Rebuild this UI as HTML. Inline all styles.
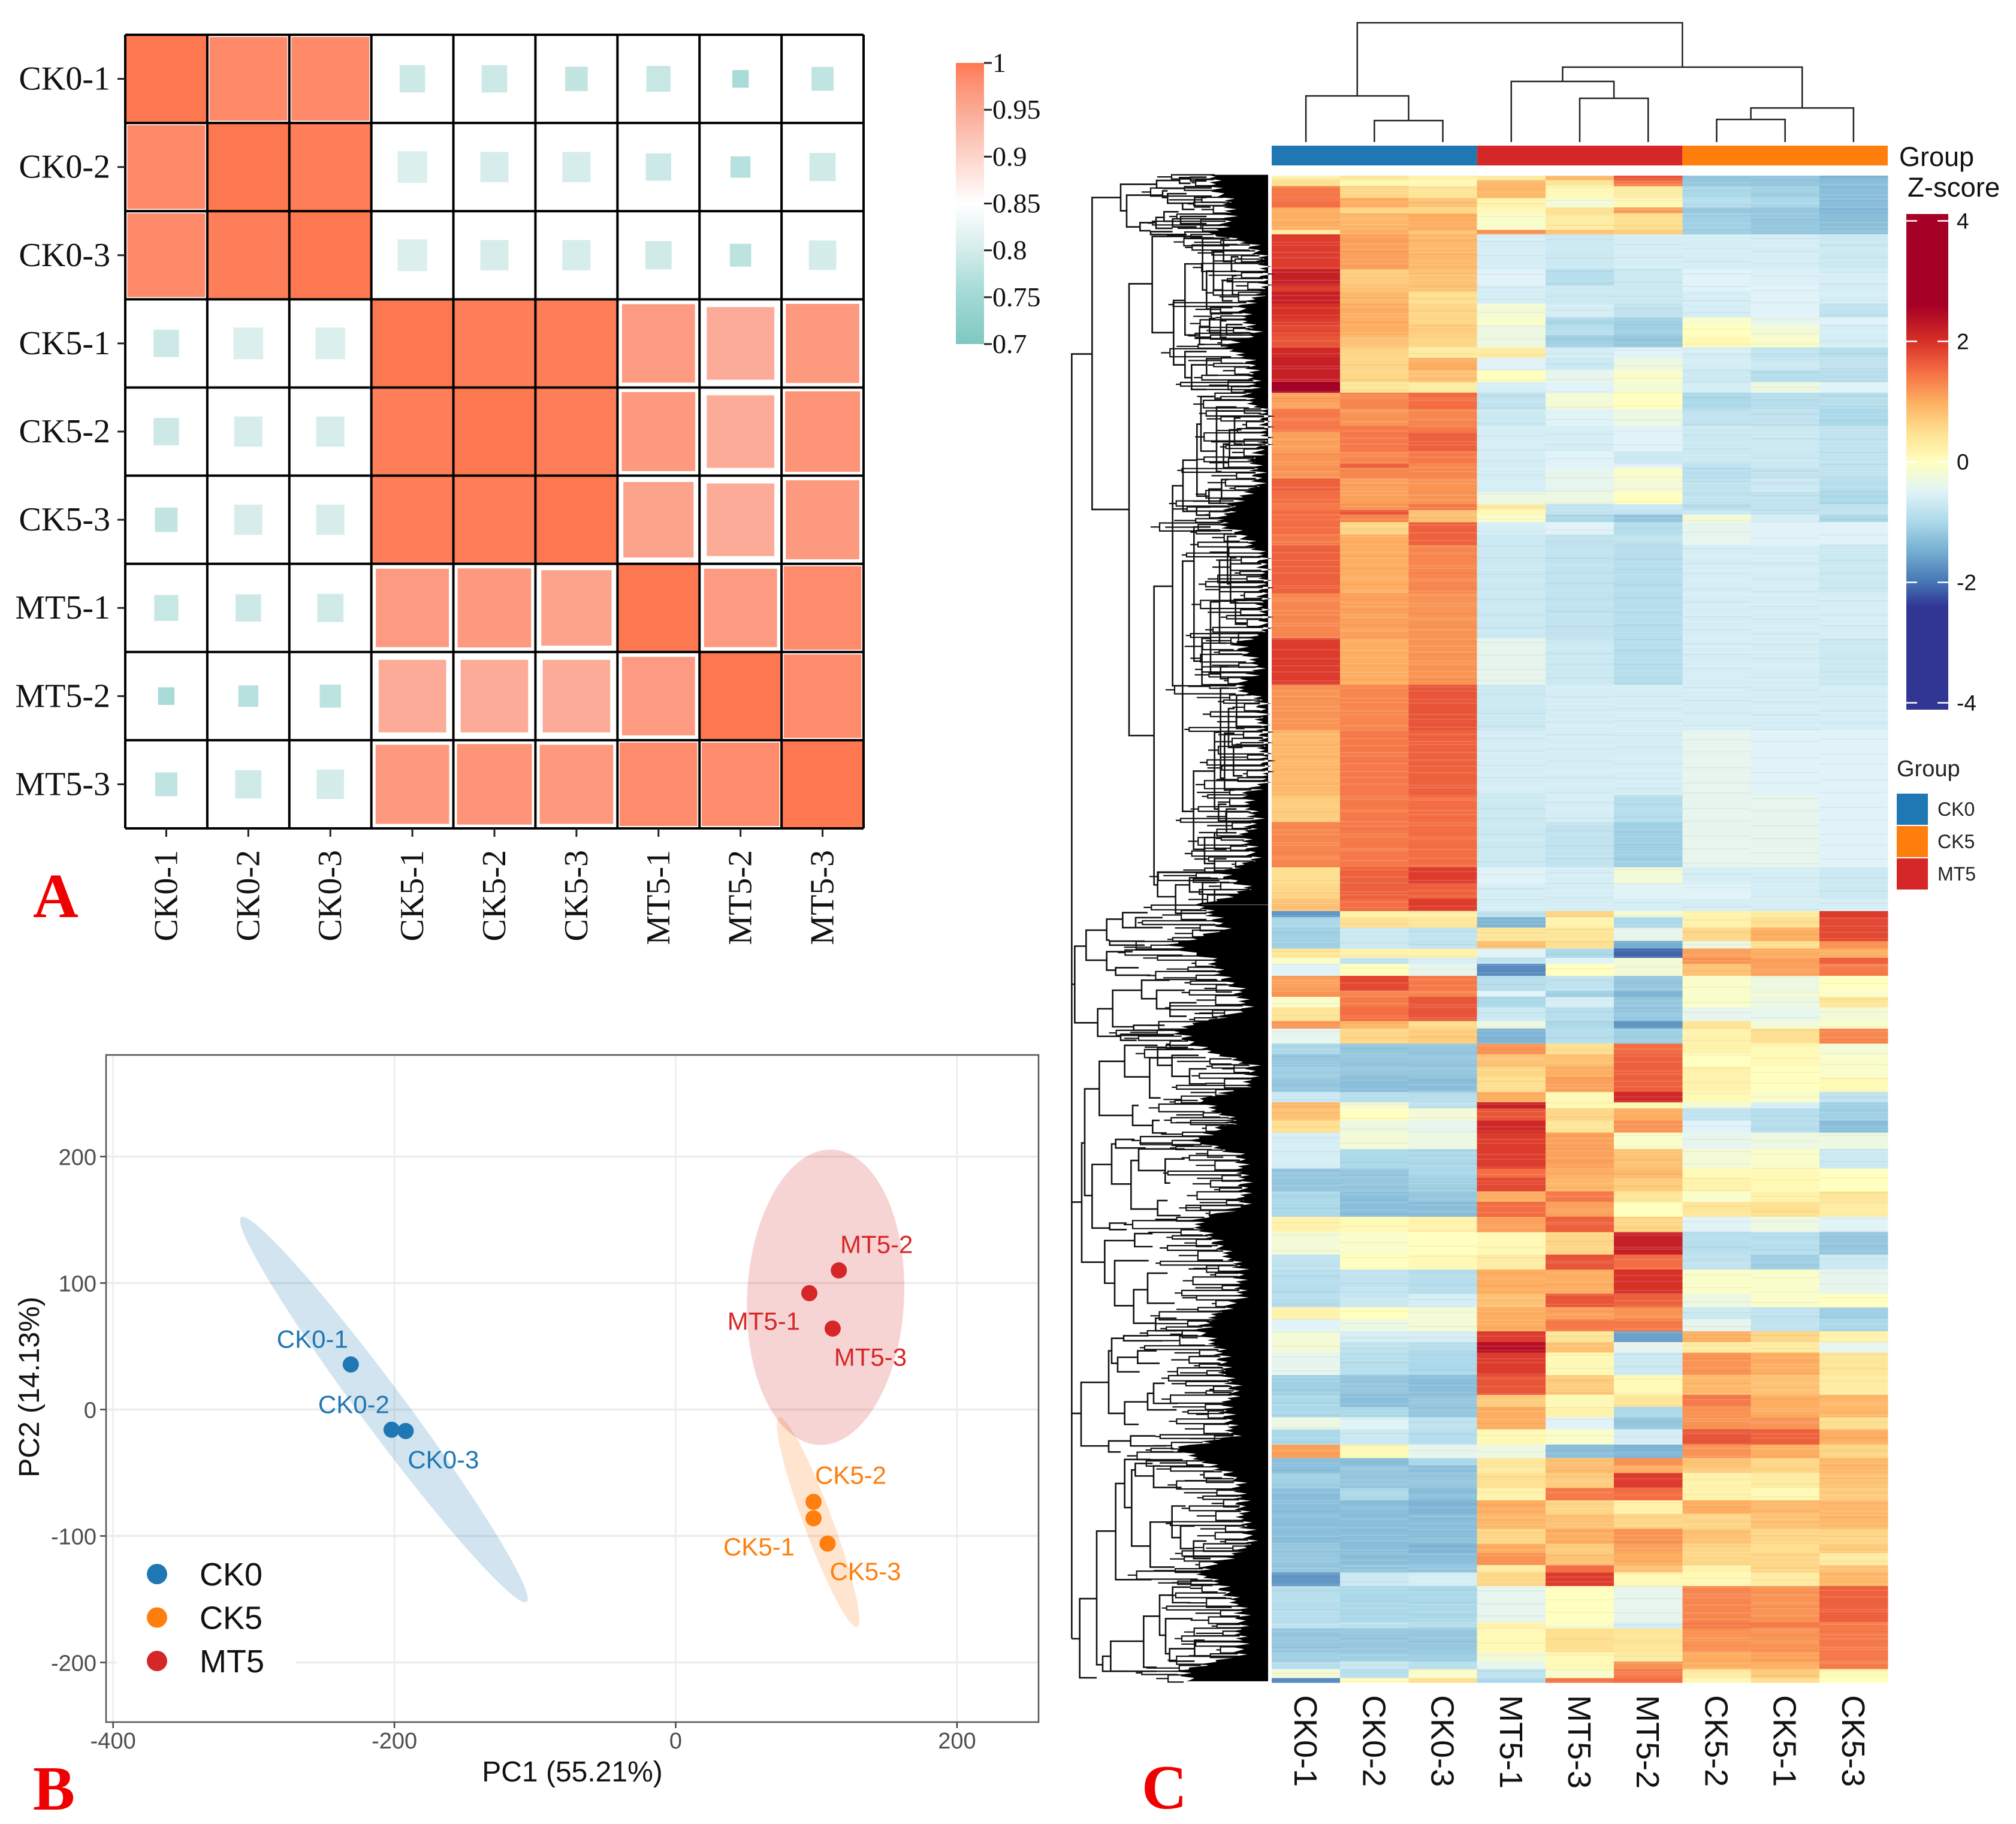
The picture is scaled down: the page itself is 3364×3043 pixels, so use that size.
<!DOCTYPE html>
<html>
<head>
<meta charset="utf-8">
<title>Correlation, PCA and clustered heatmap</title>
<style>
html,body{margin:0;padding:0;background:#fff;}
svg{display:block;}
.serif{font-family:"Liberation Serif",serif;}
.sans{font-family:"Liberation Sans",sans-serif;}
</style>
</head>
<body>
<svg id="fig" xmlns="http://www.w3.org/2000/svg" width="3364" height="3043" viewBox="0 0 3364 3043">
  <rect x="0" y="0" width="3364" height="3043" fill="#fff"/>
  <g id="panelA"></g>
  <g id="panelB"></g>
  <g id="panelC"></g>
  <text class="serif" x="55" y="1530" font-size="105" font-weight="bold" fill="#f00000">A</text>
  <text class="serif" x="55" y="3019" font-size="105" font-weight="bold" fill="#f00000">B</text>
  <text class="serif" x="1905" y="3017" font-size="105" font-weight="bold" fill="#f00000">C</text>
</svg>
<script>
/* ---------- Panel A data ---------- */
const corrLabels = ['CK0-1','CK0-2','CK0-3','CK5-1','CK5-2','CK5-3','MT5-1','MT5-2','MT5-3'];
const corrValues = [
 [1,.985,.985,.793,.793,.783,.788,.76,.781],
 [.985,1,.995,.808,.803,.803,.793,.773,.796],
 [.985,.995,1,.808,.803,.803,.796,.778,.80],
 [.793,.808,.808,1,.995,.995,.967,.947,.969],
 [.793,.803,.803,.995,1,.995,.969,.947,.974],
 [.783,.803,.803,.995,.995,1,.957,.947,.969],
 [.788,.793,.796,.967,.969,.957,1,.967,.984],
 [.76,.773,.778,.947,.947,.947,.967,1,.984],
 [.781,.796,.80,.969,.974,.969,.984,.984,1]
];
const corrTicks = [1,.95,.9,.85,.8,.75,.7];
const corrStopValues = [1,.985,.967,.947,.9,.85,.8,.76,.7];
const corrStopColors = ['#fd7850','#fe8a6a','#fc9b81','#fbab97','#fdd5cb','#ffffff','#d4ecea','#a9dcd8','#7ec8c1'];

/* ---------- Panel B data ---------- */
const pcaNames = ['CK0-1','CK0-2','CK0-3','CK5-1','CK5-2','CK5-3','MT5-1','MT5-2','MT5-3'];
const pcaX = [-231,-202,-192,98,98,108,95,116,111.6];
const pcaY = [35.6,-16,-17,-86,-73,-106,92,110,64];
const pcaGroup = [0,0,0,1,1,1,2,2,2];
const groupNames = ['CK0','CK5','MT5'];
const groupColors = ['#1f77b4','#ff7f0e','#d62728'];
const ellipseTipAX = [-309,73.5,111.5];
const ellipseTipAY = [152,-6,205.5];
const ellipseTipBX = [-106,129,101.6];
const ellipseTipBY = [-152,-172,-28];
const ellipseHalfWidth = [37,24,131];
const pcaXTicks = [-400,-200,0,200];
const pcaYTicks = [200,100,0,-100,-200];

/* ---------- Panel C data ---------- */
const heatColumns = ['CK0-1','CK0-2','CK0-3','MT5-1','MT5-3','MT5-2','CK5-2','CK5-1','CK5-3'];
const zStopValues = [-2.4,-2,-1.5,-1,-.5,0,.5,1,1.5,2,2.6];
const zStopColors = ['#313695','#4575b4','#74add1','#abd9e9','#e0f3f8','#ffffbf','#fee090','#fdae61','#f46d43','#d73027','#a50026'];
const zTicks = [4,2,0,-2,-4];
const colMerges = [[1,2,18],[0,9,38.7],[4,5,36.7],[3,11,50.8],[6,7,19],[13,8,28.6],[12,14,62.8],[10,15,100]];
const heatRowEnds = [3,7,15,21,25,36,39,62,73,77,85,94,99,106,114,121,129,137,144,155,166,170,183,191,194,201,210,218,222,225,230,238,245,
 277,307,338,368,411,429,459,470,480,488,492,499,508,513,519,523,531,541,545,552,561,566,576,583,591,598,608,615,619,627,635,646,659,665,674,681,691,701,716,726,742,
 751,759,767,774,781,796,809,817,824,832,842,851,856,861,871,879,888,898,908,914,922,927,936,960,964,980,986,991,997,1000];
const heatZ = [
 [.2,.4,.2,.3,.9,1.7,-1.2,-1.2,-1.4],[.5,.1,.1,.9,.4,1.4,-1.2,-1.2,-1.3],[1.4,.6,.4,.9,.1,.3,-1,-1.1,-1.3],[1.5,1,.8,.2,-.2,.1,-.9,-1,-1.3],
 [1,.6,.6,.1,.5,1.1,-1.2,-1.2,-1.4],[1,.9,1,-.1,.3,.5,-1.1,-1.2,-1.3],[.3,1,.8,1.2,.8,.7,-1.1,-1.2,-1.2],[1.9,1.1,.9,-.6,-.7,-.6,-.6,-.6,-.7],
 [2.2,.7,.8,-.5,-.9,-.7,-.5,-.55,-.6],[1.9,.8,.8,-.6,-.7,-.7,-.5,-.5,-.6],[2.2,.9,.5,-.6,-.7,-.7,-.6,-.5,-.6],[2,1,.6,-.2,-.6,-.8,-.6,-.5,-.8],
 [1.9,1,.6,-.1,-1,-1.1,-.1,-.4,-.5],[1.8,1,.7,-.3,-.9,-1.1,0,-.2,-.6],[1.7,.8,.6,-.3,-1.1,-1.2,.1,-.1,-.6],[2.1,.6,.3,.3,-.6,-.5,-.6,-.8,-.9],
 [2.2,.6,1,-.5,-.7,-.3,-.6,-.7,-.8],[2.2,.6,.8,0,-.4,-.1,-.7,-.9,-.9],[2.6,.4,.3,-.6,-.5,-.2,-.6,-.3,-.5],[1.1,1.3,1.5,-.8,-.2,0,-1,-.9,-.9],
 [1.4,1.2,1.3,-.7,-.5,-.3,-.8,-.8,-1],[1.4,1.4,1.4,-.6,-.6,-.5,-.7,-.7,-.8],[1.1,1.4,1.6,-.6,-.6,-.5,-.7,-.7,-.8],[1.2,1.3,1.4,-.6,-.5,-.7,-.7,-.7,-.8],
 [1.2,1.6,1.3,-.6,-.5,-.5,-.8,-.7,-.8],[1.2,1.3,1.3,-.6,-.4,-.1,-.9,-.8,-.8],[1.6,1.1,1.2,-.6,-.4,-.2,-.8,-.7,-.9],[1.5,1.1,1.2,-.3,-.3,0,-.8,-.8,-1],
 [1.4,1.2,1.4,.3,-.8,-.7,-.9,-.8,-.8],[1.5,1.7,.8,.1,-.8,-.8,-.7,-.8,-.8],[1.5,1.3,.8,-.1,-1,-1.2,-.2,-.6,-1],[1.5,.6,1.6,-.6,-.5,-.9,-.4,-.5,-.5],
 [1.4,1,1.6,-.7,-.8,-.8,-.4,-.5,-.5],
 [1.6,1,1.3,-.7,-.8,-.9,-.6,-.6,-.7],[1.3,1.1,1.2,-.7,-.8,-.9,-.6,-.6,-.6],[1.9,1,1.2,-.4,-.7,-.9,-.6,-.6,-.7],[1.2,1.3,1.7,-.7,-.6,-.6,-.6,-.6,-.6],
 [.9,1.4,1.6,-.6,-.6,-.6,-.4,-.5,-.5],[.7,1.4,1.5,-.7,-.6,-.9,-.4,-.4,-.5],[1.3,1.4,1.5,-.7,-.8,-1.1,-.4,-.4,-.5],[.5,1.6,1.9,-.5,-.6,-.2,-.6,-.6,-.7],
 [.6,1.6,1.6,-.6,-.6,-.5,-.5,-.6,-.7],[.8,1.5,1.9,-.6,-.6,-.6,-.6,-.6,-.6],
 [-1.7,.2,.2,-.8,.6,-.2,.2,.3,1.9],[-1,.5,.4,-1.4,.2,-1,.2,.5,1.8],[-1.1,-.7,-.8,.4,.4,-.4,.6,1,1.8],[-1.1,-.7,-.8,.8,.5,-1.5,-.3,.5,1.2],
 [.4,.2,.2,-.5,-1,-2.1,1.1,1,1],[-.1,-.8,-.6,-.8,-.5,-.2,1.2,1.1,1.6],[-.5,0,-.4,-1.8,0,-.2,.8,1.1,1.4],[1.1,1.8,1.4,-.9,-.8,-1.2,-.1,-.3,0],
 [1.2,1.3,1.3,-.5,-1.1,-1.4,-.1,-.2,-.1],[-.1,1.4,1.7,-1,-.6,-1.2,-.1,-.3,.4],[.4,1.5,1.7,-.7,-.9,-1.2,-.4,-.4,-.2],[1.2,.9,.5,-.3,-1,-1.7,.4,-.2,-.1],
 [-.4,.6,.7,-1.4,-.9,-1.1,.2,.5,1.3],[-1,-1.2,-1.2,1.2,.5,1.5,.2,.1,-.2],[-1.2,-1.2,-1.2,.8,.8,1.6,0,.1,-.1],[-1.1,-1.2,-1.2,.6,1,1.6,.2,0,-.1],
 [-1.2,-1.3,-1.3,.5,1.1,1.6,.2,0,.1],[-.7,-.9,-.9,1,.1,2.1,.1,-.1,-.8],[.9,-.2,-.8,2.2,.1,.1,-.2,-.6,-1.1],[.8,0,-.2,1.7,.6,1,-.8,-.9,-1.1],
 [.5,-.3,-.4,2.1,.4,1.2,-.5,-.9,-1.3],[-.6,-.2,-.3,1.9,1.1,-.1,-.4,-.3,-.3],[-.6,-1,-1,1.9,1.1,.8,-.2,-.1,-.7],[-1.2,-1.2,-1,1.5,1,.9,.1,.1,0],
 [-1.2,-1.2,-1.1,1.8,.9,.7,.2,.1,0],[-1,-1.3,-1.2,1,1.4,.4,-.1,.2,.4],[-1,-1.3,-1.3,1.5,1.1,0,.4,.5,.3],[.2,.1,.2,1.1,1.6,.6,-.5,-.3,-.5],
 [-.2,-.1,0,.1,.6,2.2,-.9,-.9,-1.2],[-.8,0,.1,.3,1.7,1.5,-.8,-1.1,-.7],[-.9,-.8,-.9,1,1,2,-.1,-.1,-.4],
 [-.9,-.7,-.6,.8,1.7,1.6,-.3,-.1,0],[.2,0,-.2,1,1.1,1.2,-.7,-.8,-1.1],[-.5,-.3,-.2,1,1.4,1.4,-.4,-.8,-1],[-.2,-.6,-.6,1.9,.4,-1.6,1,.6,.2],
 [-.2,-.8,-.9,2.4,.8,-.4,.3,.3,-.4],[-.4,-.9,-1,1.9,.1,-.7,1.2,1,.4],[-1.1,-1.2,-1.3,1.7,.7,.1,.9,.8,.3],[-1,-1.3,-1.2,.7,.1,.4,1.4,1,.9],
 [-1,-1,-1.2,1,.2,-1,1.2,1,.9],[-.3,-.5,-.8,1,-.5,-1.2,1.2,1.2,.5],[-1,-.7,-.9,.1,-.1,-.6,1.7,1.6,1],[1.1,.1,-.4,-.3,-1.3,-1.4,1.2,1,.6],
 [-1.3,-1.3,-1,.4,.8,1.2,.8,.6,.9],[-1.3,-1.2,-1.3,.3,.9,1,.7,.6,.9],[-1.1,-1.2,-1.2,.5,.7,1.9,.2,.3,.8],[-1.3,-1,-1.3,.2,1.4,1.5,.2,.1,.7],
 [-1.3,-1.3,-1.4,1,.6,.2,1,.9,.9],[-1.3,-1.3,-1.3,.9,.8,.6,.6,.8,.9],[-1.3,-1.3,-1.3,.6,1,1.2,.8,.6,.6],[-1.2,-1.3,-1.4,1,.7,1.1,.6,.5,.7],
 [-1.2,-1.3,-1.3,1.2,.8,1,.6,.6,.3],[-1.2,-1.2,-1.2,.3,1.5,.8,.2,.6,.8],[-1.7,-.7,-.6,.6,1.9,.1,.1,.3,.9],[-.9,-1,-1,-.4,0,-.4,1.3,1.2,1.6],
 [-.8,-.8,-.9,.2,-.1,-.6,1.4,1.4,1.4],[-1.2,-1.2,-1.2,.1,.5,.4,1.2,1.2,1.4],[-1.1,-1.1,-1.1,-.2,.1,.3,1,1.1,1.4],[-.9,-.7,-.9,-.4,.1,1.2,1,1,1.4],
 [-.2,-.9,-.1,-.8,-.1,1.4,.3,.7,.1],[-1.8,0,.5,-1,1.4,1.5,.1,.5,0]
];
/* row dendrogram: [height, posTop, posBottom, heightTopChild, heightBottomChild] */
const rowLinksUpper = [
 [25,380,3090,127,25],[127,50,708,270,312],[270,22,78,450,300],[300,45,112,480,367],[450,14,30,565,480],[565,8,20,620,620],[620,7,15,700,700],
 [480,36,50,505,505],[505,42,62,600,580],[580,62,75,640,640],[640,50,70,700,720],[367,103,120,447,420],[447,92,115,487,530],[487,80,100,560,540],
 [530,95,112,570,650],[570,90,105,700,700],[420,122,128,530,600],[312,232,1185,428,437],[428,132,335,680,535],[535,267,403,592,592],
 [592,190,340,680,665],[680,137,245,790,700],[700,205,285,735,720],[735,165,245,785,780],[785,140,185,850,825],[780,225,268,830,830],[825,175,205,860,850],
 [830,215,255,850,860],[720,282,295,830,830],[665,322,360,715,690],[715,305,335,745,770],[770,310,345,800,800],[800,318,340,880,880],
 [592,375,430,700,625],[625,403,455,700,700],[700,390,425,770,755],[437,870,1500,530,455],[530,658,1080,582,582],[582,604,712,652,650],
 [652,528,680,672,712],[672,470,585,735,750],[750,492,628,850,775],[785,570,620,815,830],[815,540,600,875,860],[840,515,570,870,880],[712,665,695,775,790],
 [775,645,685,810,820],[650,703,720,720,720],[580,817,1345,637,635],[637,745,1028,720,677],[677,980,1078,720,800],[720,903,1055,765,770],
 [765,815,990,800,800],[805,765,865,850,820],[820,810,905,850,860],[845,900,950,900,900],[770,1040,1065,810,810],[635,1260,1425,740,690],
 [740,1178,1340,770,760],[770,1085,1275,810,790],[810,1128,1210,840,835],[850,1100,1170,890,890],[835,1210,1270,880,880],[790,1180,1300,840,840],
 [760,1330,1365,800,800],[800,1340,1390,850,850],[690,1400,1455,740,740],[740,1390,1425,800,800],[740,1445,1470,800,800],
 [455,1473,1525,700,545],[545,1500,1560,615,700],[615,1485,1515,720,680],[680,1495,1540,750,740],[740,1510,1540,830,830]
];
const rowLinksLower = [
 [40,82,235,97,155],[97,50,110,200,200],[200,28,70,280,215],[280,15,45,405,345],[345,25,45,480,480],[215,72,80,390,390],[200,93,130,330,245],[245,125,140,360,420],
 [155,207,262,230,270],[230,170,243,375,335],[375,150,187,515,450],[450,170,207,590,517],[517,195,222,650,600],[335,240,250,490,490],[270,258,270,450,350],
 [75,475,713,90,190],[90,367,580,163,127],[163,312,420,290,330],[290,280,343,455,415],[415,305,385,527,470],[455,285,320,605,527],[527,300,342,660,615],[615,327,357,700,700],
 [330,400,440,360,430],[430,430,455,465,500],[127,518,645,225,215],[225,477,557,245,322],[245,468,485,340,395],[322,510,607,360,455],[360,487,530,590,493],[493,507,555,590,518],[455,590,620,505,570],
 [215,635,648,300,300],[190,670,755,340,240],[340,656,682,430,430],[240,710,800,410,335],[335,768,835,405,445],[405,735,795,505,540],[445,825,850,550,550],
 [72,953,1080,210,210],[210,890,1015,225,290],[225,865,915,285,255],[285,860,870,410,480],[255,903,932,355,365],[355,890,915,450,465],
 [290,992,1037,405,360],[405,975,1008,435,550],[435,955,995,490,555],[210,1070,1092,320,270],[320,1060,1080,445,500],
 [65,1385,1543,150,150],[150,1250,1517,245,180],[245,1155,1347,290,425],[290,1107,1203,420,325],[325,1128,1280,343,418],[343,1115,1140,430,435],[435,1120,1163,470,575],[418,1232,1322,527,540],
 [527,1200,1263,595,570],[570,1240,1285,640,635],[635,1270,1305,700,720],[180,1500,1530,220,300],[220,1470,1530,385,450],[385,1420,1522,465,450],[465,1378,1458,530,495],
 [495,1425,1495,630,515],[515,1485,1510,640,640],[530,1362,1393,620,620],[640,1468,1500,690,720]
];
/* silhouette of densely packed leaves: [pos, height] */
const fringeUpper = [[2,705],[30,690],[60,780],[100,760],[128,700],[140,820],[150,880],[180,945],[250,950],[280,830],[300,850],[340,900],[360,760],[400,880],[440,900],[470,850],[500,950],[560,960],[600,900],[660,920],[690,800],[740,730],[760,830],[800,930],[850,950],[900,940],[970,950],[990,800],[1040,930],[1080,810],[1110,930],[1200,950],[1280,960],[1310,850],[1360,900],[1400,850],[1450,900],[1475,720],[1510,880],[1542,640]];
const fringeLower = [[0,640],[50,750],[80,470],[110,700],[140,720],[170,830],[210,850],[250,500],[280,600],[320,880],[360,880],[390,620],[430,800],[470,600],[500,830],[550,840],[600,850],[630,600],[680,720],[720,820],[780,830],[850,620],[880,720],[930,750],[970,800],[1010,750],[1060,800],[1085,500],[1110,650],[1150,820],[1200,830],[1280,880],[1330,620],[1350,700],[1400,830],[1450,830],[1500,820],[1530,520],[1550,600]];
const fringeTeeth = [0,14,3,26,6,18,1,31,9,4,22,12,2,28,7,16];
const twigLengths = [60,18,34,90,24,48,14,72,30,110,20,40,26,64,16,84];
const stripeGaps = [5,9,4,13,7,3,11,6,15,4,8,10,3,12,5,7];

/* ---------- helpers ---------- */
const NS = 'http://www.w3.org/2000/svg';
function mk(parent, tag, attrs, txt){
  const el = document.createElementNS(NS, tag);
  for (const k in attrs) el.setAttribute(k, attrs[k]);
  if (txt !== undefined) el.textContent = txt;
  parent.appendChild(el);
  return el;
}
function hex(c){return [parseInt(c.slice(1,3),16),parseInt(c.slice(3,5),16),parseInt(c.slice(5,7),16)];}
function ramp(vals, cols, v){
  const asc = vals[0] < vals[vals.length-1];
  const vs = asc ? vals : vals.slice().reverse();
  const cs = asc ? cols : cols.slice().reverse();
  if (v <= vs[0]) return cs[0];
  if (v >= vs[vs.length-1]) return cs[cs.length-1];
  for (let i=0;i<vs.length-1;i++){
    if (v>=vs[i] && v<=vs[i+1]){
      const t=(v-vs[i])/(vs[i+1]-vs[i]); const a=hex(cs[i]), b=hex(cs[i+1]);
      return 'rgb('+a.map((x,j)=>Math.round(x+(b[j]-x)*t)).join(',')+')';
    }
  }
  return cs[0];
}
const svg = document.getElementById('fig');
const defs = mk(svg,'defs',{});

/* ---------- Panel A ---------- */
(function(){
  const g = document.getElementById('panelA');
  const L=209,T=58,R=1441,B=1382, cw=(R-L)/9, ch=(B-T)/9;
  const sizeOf = v => (v-0.7)/0.3;
  corrValues.forEach((row,r)=>row.forEach((v,c)=>{
    const s = sizeOf(v), w=cw*s, h=ch*s;
    const cell = mk(g,'rect',{x:L+c*cw+(cw-w)/2,y:T+r*ch+(ch-h)/2,width:w,height:h,fill:ramp(corrStopValues,corrStopColors,v)});
    
    
  }));
  for (let i=0;i<=9;i++){
    const vl = mk(g,'line',{x1:L+i*cw,x2:L+i*cw,y1:T,y2:B,stroke:'#000','stroke-width':4});
    
    
    const hl = mk(g,'line',{x1:L,x2:R,y1:T+i*ch,y2:T+i*ch,stroke:'#000','stroke-width':4});
    
    
  }
  corrLabels.forEach((name,i)=>{
    const cy=T+(i+.5)*ch, cx=L+(i+.5)*cw;
    const t1 = mk(g,'line',{x1:196,x2:L,y1:cy,y2:cy,stroke:'#222','stroke-width':3});
    
    
    const t2 = mk(g,'line',{x1:cx,x2:cx,y1:B,y2:B+14,stroke:'#222','stroke-width':3});
    
    
    const yl = mk(g,'text',{x:184,y:cy+18,'text-anchor':'end','font-size':56,fill:'#111',class:'serif'},name);
    
    
    const xl = mk(g,'text',{x:cx+18,y:1418,'text-anchor':'end','font-size':56,fill:'#111',class:'serif',transform:'rotate(-90 '+(cx+18)+' 1418)'},name);
    
    
  });
  /* colour bar */
  const top=105,bot=574,barY=v=>bot-(v-0.7)/0.3*(bot-top);
  const grad = mk(defs,'linearGradient',{id:'corrGrad',x1:0,x2:0,y1:0,y2:1});
  corrStopValues.forEach((v,i)=>mk(grad,'stop',{offset:(barY(v)-top)/(bot-top),'stop-color':corrStopColors[i]}));
  const bar = mk(g,'rect',{x:1595,y:top,width:47,height:bot-top,fill:'url(#corrGrad)'});
  
  
  corrTicks.forEach(v=>{
    const y=barY(v);
    const tk = mk(g,'line',{x1:1642,x2:1655,y1:y,y2:y,stroke:'#222','stroke-width':3});
    
    
    const lb = mk(g,'text',{x:1656,y:y+15,'font-size':46,fill:'#111',class:'serif'},String(v));
    
    
  });
})();

/* ---------- Panel B ---------- */
(function(){
  const g = document.getElementById('panelB');
  const L=177,R=1733,T=1760,B=2873;
  const X=v=>1127.5+v*2.347, Y=v=>2351.5-v*2.11;
  pcaXTicks.forEach(v=>{
    const gl = mk(g,'line',{x1:X(v),x2:X(v),y1:T,y2:B,stroke:'#ececec','stroke-width':2.5});
    
    
    const tk = mk(g,'line',{x1:X(v),x2:X(v),y1:B,y2:B+10,stroke:'#444','stroke-width':2.5});
    
    
    const lb = mk(g,'text',{x:X(v),y:2917,'text-anchor':'middle','font-size':38,fill:'#4d4d4d',class:'sans'},String(v));
    
    
  });
  pcaYTicks.forEach(v=>{
    const gl = mk(g,'line',{x1:L,x2:R,y1:Y(v),y2:Y(v),stroke:'#ececec','stroke-width':3.5});
    
    
    const tk = mk(g,'line',{x1:L-10,x2:L,y1:Y(v),y2:Y(v),stroke:'#444','stroke-width':2.5});
    
    
    const lb = mk(g,'text',{x:161,y:Y(v)+14,'text-anchor':'end','font-size':38,fill:'#4d4d4d',class:'sans'},String(v));
    
    
  });
  groupNames.forEach((name,i)=>{
    const ax=X(ellipseTipAX[i]), ay=Y(ellipseTipAY[i]), bx=X(ellipseTipBX[i]), by=Y(ellipseTipBY[i]);
    const a=Math.hypot(bx-ax,by-ay)/2, b=ellipseHalfWidth[i], ang=Math.atan2(by-ay,bx-ax)*180/Math.PI;
    const e = mk(g,'path',{d:`M${ax} ${ay}A${a} ${b} ${ang} 1 0 ${bx} ${by}A${a} ${b} ${ang} 1 0 ${ax} ${ay}Z`,fill:groupColors[i],'fill-opacity':0.2});
    
    
  });
  const labelDx=[-64,-63,63,-91,62,63,-76,63,63], labelDy=[-43,-43,47,47,-45,46,46,-44,47];
  pcaNames.forEach((name,i)=>{
    const c = mk(g,'circle',{cx:X(pcaX[i]),cy:Y(pcaY[i]),r:13.5,fill:groupColors[pcaGroup[i]]});
    
    
    const t = mk(g,'text',{x:X(pcaX[i])+labelDx[i],y:Y(pcaY[i])+labelDy[i]+15,'text-anchor':'middle','font-size':42,fill:groupColors[pcaGroup[i]],class:'sans'},name);
    
    
  });
  const border = mk(g,'rect',{x:L,y:T,width:R-L,height:B-T,fill:'none',stroke:'#555','stroke-width':2.5});
  
  
  const lbg = mk(g,'rect',{x:195,y:2592,width:299,height:216,fill:'#fff'});
  
  
  groupNames.forEach((name,i)=>{
    const y=2626+i*72.5;
    const m = mk(g,'circle',{cx:262,cy:y,r:17,fill:groupColors[i]});
    
    
    const t = mk(g,'text',{x:333,y:y+19,'font-size':54,fill:'#111',class:'sans'},name);
    
    
  });
  const xt = mk(g,'text',{x:955,y:2972,'text-anchor':'middle','font-size':48,fill:'#111',class:'sans'},'PC1 (55.21%)');
  
  
  const yt = mk(g,'text',{x:65,y:2314,'text-anchor':'middle','font-size':48,fill:'#111',class:'sans',transform:'rotate(-90 65 2314)'},'PC2 (14.13%)');
  
  
})();

/* ---------- Panel C ---------- */
(function(){
  const g = document.getElementById('panelC');
  const L=2122,R=3150,T=293,B=2807, cw=(R-L)/9, rowH=(B-T)/1000;
  const rowY = r => T + r*rowH;
  const zColor = z => ramp(zStopValues,zStopColors,z);
  const cells = mk(g,'g',{'shape-rendering':'crispEdges'});
  
  
  let prev=0;
  heatRowEnds.forEach((end,r)=>{
    heatZ[r].forEach((z,c)=>{
      const rc = mk(cells,'rect',{x:L+c*cw,y:rowY(prev),width:cw+.5,height:rowY(end)-rowY(prev)+.5,fill:zColor(z)});
      
      
    });
    prev=end;
  });
  /* fine row texture */
  [0,1,2].forEach(grp=>{
    for (let col=0; col<3; col++){
      let y=T+((grp*7+col*4)%11), i=grp*5+col*3, light='', dark='';
      const x0=L+(grp*3+col)*cw, x1=x0+cw;
      while(y<B-2){
        const gap=stripeGaps[i%stripeGaps.length];
        const seg=`M${x0} ${y}H${x1}V${y+2}H${x0}Z`;
        if(i%3===1) dark+=seg; else light+=seg;
        y+=gap; i++;
      }
      const lp = mk(g,'path',{d:light,fill:'#fff','fill-opacity':0.12});
      
      
      const dp = mk(g,'path',{d:dark,fill:'#8a4020','fill-opacity':0.05});
      
      
    }
  });
  /* annotation bar */
  const annGroups=[0,2,1];
  annGroups.forEach((gi,i)=>{
    const a = mk(g,'rect',{x:L+i*3*cw,y:243,width:3*cw,height:33,fill:groupColors[gi]});
    
    
  });
  /* column dendrogram */
  const colY=h=>237-h*1.99;
  const nodeX=[], nodeH=[];
  heatColumns.forEach((_,i)=>{nodeX.push(L+(i+.5)*cw);nodeH.push(0);});
  colMerges.forEach(m=>{
    const [a,b,h]=m;
    const p = mk(g,'path',{d:`M${nodeX[a]} ${colY(nodeH[a])}V${colY(h)}H${nodeX[b]}V${colY(nodeH[b])}`,fill:'none',stroke:'#222','stroke-width':2.5});
    
    
    nodeX.push((nodeX[a]+nodeX[b])/2);
    nodeH.push(h);
  });
  /* row dendrogram */
  const dX=d=>1780+d/3, uY=p=>290+p/1.2645, lY=p=>1510+p/1.197;
  function drawLinks(links,yFn){
    links.forEach(l=>{
      const [h,t,b,ht,hb]=l;
      const p = mk(g,'path',{d:`M${dX(ht)} ${yFn(t)}H${dX(h)}V${yFn(b)}H${dX(hb)}`,fill:'none',stroke:'#111','stroke-width':2.6});
      
      
    });
  }
  drawLinks(rowLinksUpper,uY);
  drawLinks(rowLinksLower,lY);
  [[158,40],[593,75],[1015,72],[1465,65]].forEach(a=>{
    const p = mk(g,'line',{x1:dX(25),x2:dX(a[1]),y1:lY(a[0]),y2:lY(a[0]),stroke:'#111','stroke-width':2.6});
    
    
  });
  /* fine twigs between the main branches and the leaf mass */
  function twigs(pts,yFn,startIdx){
    let d='', i=startIdx;
    for(let s=0;s<pts.length-1;s++){
      const y0=yFn(pts[s][0]), y1=yFn(pts[s+1][0]), x0=dX(pts[s][1]), x1=dX(pts[s+1][1]);
      let y=y0;
      while(y<y1){
        const env=x0+(x1-x0)*(y-y0)/(y1-y0);
        const gap=stripeGaps[i%stripeGaps.length]*.8+3;
        const len=twigLengths[i%twigLengths.length];
        const extra=twigLengths[(i+5)%twigLengths.length]*.5;
        const xl=env-len;
        d+=`M${(env+12).toFixed(1)} ${y.toFixed(1)}H${xl.toFixed(1)}V${(y+gap).toFixed(1)}H${(env+12).toFixed(1)}`;
        d+=`M${xl.toFixed(1)} ${(y+gap/2).toFixed(1)}H${(xl-extra).toFixed(1)}`;
        y+=gap*1.15; i++;
      }
    }
    return d;
  }
  const tu = mk(g,'path',{d:twigs(fringeUpper,uY,0),fill:'none',stroke:'#111','stroke-width':2.2});
  
  
  const tl = mk(g,'path',{d:twigs(fringeLower,lY,7),fill:'none',stroke:'#111','stroke-width':2.2});
  
  
  function fringe(pts,yFn){
    let d='', k=0;
    const right=2116;
    d+=`M${right} ${yFn(pts[0][0])}`;
    for(let i=0;i<pts.length-1;i++){
      const y0=yFn(pts[i][0]), y1=yFn(pts[i+1][0]), x0=dX(pts[i][1]), x1=dX(pts[i+1][1]);
      const n=Math.max(1,Math.round((y1-y0)/3));
      for(let j=0;j<n;j++){
        const t=j/n;
        d+=`L${(x0+(x1-x0)*t+fringeTeeth[k%fringeTeeth.length]).toFixed(1)} ${(y0+(y1-y0)*t).toFixed(1)}`;
        k++;
      }
    }
    const last=pts[pts.length-1];
    d+=`L${dX(last[1])} ${yFn(last[0])}L${right} ${yFn(last[0])}Z`;
    return d;
  }
  const fu = mk(g,'path',{d:fringe(fringeUpper,uY),fill:'#000'});
  
  
  const fl = mk(g,'path',{d:fringe(fringeLower,lY),fill:'#000'});
  
  
  /* column labels */
  heatColumns.forEach((name,i)=>{
    const x=L+(i+.5)*cw-19;
    const t = mk(g,'text',{x:x,y:2828,'font-size':54,fill:'#111',class:'sans',transform:'rotate(90 '+x+' 2828)'},name);
    
    
  });
  /* z-score colour bar */
  const zy=v=>770.5-v*100.5;
  const barTop=357, barBot=1184;
  const grad = mk(defs,'linearGradient',{id:'zGrad',x1:0,x2:0,y1:0,y2:1});
  zStopValues.slice().reverse().forEach((v,i)=>{
    mk(grad,'stop',{offset:(zy(v)-barTop)/(barBot-barTop),'stop-color':zStopColors[zStopColors.length-1-i]});
  });
  const bar = mk(g,'rect',{x:3181,y:barTop,width:70,height:barBot-barTop,fill:'url(#zGrad)'});
  
  
  zTicks.forEach(v=>{
    const y=zy(v);
    const t1 = mk(g,'line',{x1:3181,x2:3199,y1:y,y2:y,stroke:'#fff','stroke-width':2.5});
    
    
    const t2 = mk(g,'line',{x1:3233,x2:3251,y1:y,y2:y,stroke:'#fff','stroke-width':2.5});
    
    
    const lb = mk(g,'text',{x:3265,y:y+13,'font-size':37,fill:'#111',class:'sans'},String(v));
    
    
  });
  const gt = mk(g,'text',{x:3169,y:277,'font-size':45,fill:'#111',class:'sans'},'Group');
  
  
  const zt = mk(g,'text',{x:3183,y:328,'font-size':45.5,fill:'#111',class:'sans'},'Z-score');
  
  
  const lt = mk(g,'text',{x:3165,y:1295,'font-size':38,fill:'#222',class:'sans'},'Group');
  
  
  groupNames.forEach((name,i)=>{
    const y=1324+i*54;
    const s = mk(g,'rect',{x:3165,y:y,width:52,height:52,fill:groupColors[i]});
    
    
    const t = mk(g,'text',{x:3233,y:y+37,'font-size':32,fill:'#222',class:'sans'},name);
    
    
  });
})();
</script>
</body>
</html>
